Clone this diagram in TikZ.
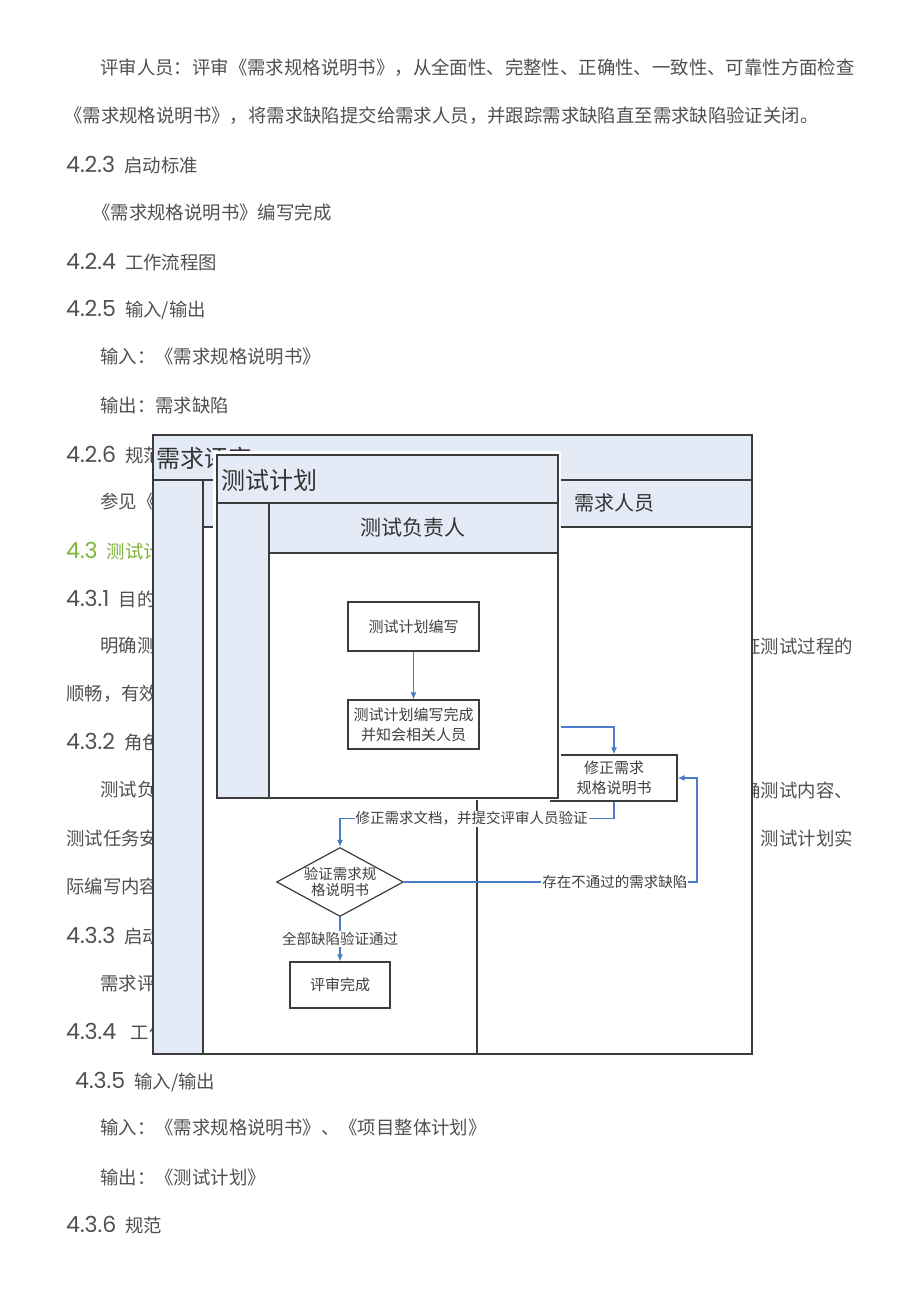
\documentclass[tikz,border=0pt]{standalone}
\usepackage{fontspec}
\setmainfont{Noto Sans CJK SC}
\newfontfamily\numfont[Scale=1.2]{Poppins}
\usetikzlibrary{arrows.meta,shapes.geometric}
\definecolor{bodytext}{HTML}{505050}
\definecolor{headgreen}{HTML}{7DB53A}
\definecolor{lanefill}{HTML}{E5EBF6}
\definecolor{framegray}{HTML}{3C3C3C}
\definecolor{flowblue}{HTML}{4A7CC9}
\newcommand{\secno}[1]{{\numfont #1}\hspace{0.5em}}
\begin{document}
\begin{tikzpicture}[x=1pt,y=-1pt,
  body/.style={anchor=west,inner sep=0pt,text=bodytext,font=\fontsize{18.4}{20}\selectfont},
  bodyright/.style={body,anchor=east},
  lane/.style={fill=lanefill,draw=framegray,line width=1.4pt},
  frame/.style={draw=framegray,line width=1.4pt},
  title/.style={anchor=west,inner sep=0pt,text=black!80,font=\fontsize{24}{26}\selectfont},
  lanehead/.style={inner sep=0pt,text=black!80,font=\fontsize{20}{22}\selectfont},
  flowbox/.style={draw=framegray,line width=1.2pt,fill=white,minimum width=131pt,minimum height=49pt,
    inner sep=0pt,align=center,text=black!75,font=\fontsize{15}{20}\selectfont},
  decision/.style={diamond,draw=framegray,line width=1.2pt,fill=white,aspect=1.84,inner sep=0pt,
    minimum width=125pt,minimum height=68pt,align=center,text=black!75,font=\fontsize{14.5}{16}\selectfont},
  flow/.style={draw=flowblue,line width=1.2pt,-{Latex[length=7pt,width=6pt]}},
  flowlabel/.style={fill=white,inner sep=1pt,text=black!75,font=\fontsize{14.5}{16}\selectfont}]

\useasboundingbox[fill=white] (0,0) rectangle (920,1302);

% page text
\node[body] (t1) at (100,68) {评审人员：评审《需求规格说明书》，从全面性、完整性、正确性、一致性、可靠性方面检查};
\node[body] (t2) at (64,116) {《需求规格说明书》，将需求缺陷提交给需求人员，并跟踪需求缺陷直至需求缺陷验证关闭。};
\node[body] (h423) at (66,165) {\secno{4.2.3}启动标准};
\node[body] (t3) at (92,212) {《需求规格说明书》编写完成};
\node[body] (h424) at (66,262) {\secno{4.2.4}工作流程图};
\node[body] (h425) at (66,310) {\secno{4.2.5}输入/输出};
\node[body] (t4) at (100,357) {输入：《需求规格说明书》};
\node[body] (t5) at (100,405) {输出：需求缺陷};
\node[body] (h426) at (66,455) {\secno{4.2.6}规范};
\node[body] (t6) at (100,501) {参见《};
\node[body,text=headgreen] (h43) at (66,551) {\secno{4.3}测试计划};
\node[body] (h431) at (66,599) {\secno{4.3.1}目的};
\node[body] (t7) at (100,646) {明确测试};
\node[bodyright] (t7r) at (853,646) {保证测试过程的};
\node[body] (t8) at (66,694) {顺畅，有效};
\node[body] (h432) at (66,742) {\secno{4.3.2}角色};
\node[body] (t9) at (100,790) {测试负责};
\node[bodyright] (t9r) at (853,790) {明确测试内容、};
\node[body] (t10) at (66,838) {测试任务安排};
\node[bodyright] (t10r) at (853,838) {测试计划实};
\node[body] (t11) at (66,886) {际编写内容};
\node[body] (h433) at (66,936) {\secno{4.3.3}启动标准};
\node[body] (t12) at (100,983) {需求评审};
\node[body] (h434) at (66,1032) {\secno{4.3.4}\hspace{0.3em}工作流程图};
\node[body] (h435) at (75,1082) {\secno{4.3.5}输入/输出};
\node[body] (t13) at (100,1128) {输入：《需求规格说明书》、《项目整体计划》};
\node[body] (t14) at (100,1177) {输出：《测试计划》};
\node[body] (h436) at (66,1225) {\secno{4.3.6}规范};

% diagram 1: review
\fill[white] (153,435) rectangle (752,1054);
\draw[lane] (153,435) rectangle (752,480);
\node[title] (revtitle) at (156,458) {需求评审};
\draw[lane] (153,480) rectangle (203,1054);
\draw[lane] (203,480) rectangle (752,527);
\draw[frame] (477,480) -- (477,1054);
\draw[frame] (153,435) rectangle (752,1054);
\node[lanehead] (revlane) at (614,503) {需求人员};

\node[flowbox,minimum width=126pt,minimum height=46pt] (fixspec) at (614,778) {修正需求\\规格说明书};
\node[decision] (verify) at (340,882) {验证需求规\\格说明书};
\node[flowbox,minimum width=100pt,minimum height=46pt] (done) at (340,985) {评审完成};
\coordinate (fixin) at (540,727);

\draw[flow] (fixin) -| (fixspec.north);
\draw[flow] (fixspec.south) -- ++(0,17) -| node[flowlabel,pos=0.26]{修正需求文档，并提交评审人员验证} (verify.north);
\draw[flow] (verify.east) -- node[flowlabel,pos=0.72]{存在不通过的需求缺陷} ++(293,0) |- (fixspec.east);
\draw[flow] (verify.south) -- node[flowlabel]{全部缺陷验证通过} (done.north);

% diagram 2: test plan
\fill[white] (213,451) rectangle (561,800);
\draw[lane] (217,455) rectangle (558,503);
\node[title] (plantitle) at (221,480) {测试计划};
\draw[lane] (217,503) rectangle (269,798);
\draw[lane] (269,503) rectangle (558,553);
\draw[frame] (217,455) rectangle (558,798);
\node[lanehead,font=\fontsize{21}{23}\selectfont] (planlane) at (413,528) {测试负责人};

\node[flowbox] (write) at (413.5,626.5) {测试计划编写};
\node[flowbox] (notify) at (413.5,724.5) {测试计划编写完成\\并知会相关人员};
\draw[flow] (write) -- (notify);
\end{tikzpicture}
\end{document}
